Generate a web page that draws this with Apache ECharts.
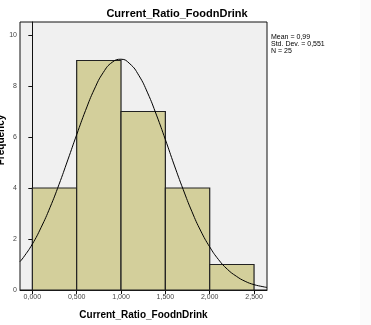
<!DOCTYPE html>
<html>
<head>
<meta charset="utf-8">
<script src="https://cdn.jsdelivr.net/npm/echarts@6/dist/echarts.min.js"></script>
<style>html,body{margin:0;padding:0;background:#fff;}#c{width:371px;height:325px;}</style>
</head>
<body>
<div id="c"></div>
<script>
// Histogram bins (lower edge, upper edge) and frequencies
var binStart = [0.0, 0.5, 1.0, 1.5, 2.0];
var binEnd   = [0.5, 1.0, 1.5, 2.0, 2.5];
var frequency = [4, 9, 7, 4, 1];
// Normal curve points
var curveX = [-0.14, -0.1, 0.0, 0.1, 0.2, 0.3, 0.4, 0.5, 0.6, 0.7, 0.8, 0.9, 1.0, 1.1, 1.2, 1.3, 1.4, 1.5, 1.6, 1.7, 1.8, 1.9, 2.0, 2.1, 2.2, 2.3, 2.4, 2.5, 2.6, 2.646];
var curveY = [1.11, 1.28, 1.80, 2.46, 3.24, 4.13, 5.10, 6.09, 7.04, 7.88, 8.53, 8.93, 9.05, 8.87, 8.42, 7.73, 6.86, 5.90, 4.90, 3.95, 3.07, 2.31, 1.69, 1.19, 0.81, 0.54, 0.34, 0.21, 0.13, 0.10];
var xTicks = [0, 0.5, 1.0, 1.5, 2.0, 2.5];
var yTicks = [0, 2, 4, 6, 8, 10];
var titleText = 'Current_Ratio_FoodnDrink';
var xAxisTitle = 'Current_Ratio_FoodnDrink';
var yAxisTitle = 'Frequency';
var statsLines = ['Mean = 0,99', 'Std. Dev. = 0,551', 'N = 25'];

var bins = binStart.map(function (s, i) { return [s, binEnd[i], frequency[i]]; });
var curve = curveX.map(function (x, i) { return [x, curveY[i]]; });
var font = '"Liberation Sans", Arial, sans-serif';

var chart = echarts.init(document.getElementById('c'), null, {renderer: 'canvas'});
chart.setOption({
  animation: false,
  backgroundColor: '#fff',
  title: {
    text: titleText, left: 172, top: 3, textAlign: 'center',
    textStyle: {fontFamily: font, fontSize: 11, fontWeight: 'bold', color: '#000'}
  },
  grid: {
    left: 20, top: 22, width: 247, height: 268,
    show: true, backgroundColor: '#f0f0f0', borderColor: '#111', borderWidth: 1
  },
  xAxis: {
    type: 'value', min: -0.139, max: 2.646,
    name: xAxisTitle, nameLocation: 'middle', nameGap: 20,
    nameTextStyle: {fontFamily: font, fontSize: 10, fontWeight: 'bold', color: '#000'},
    axisLine: {show: true, onZero: false, lineStyle: {color: '#111', width: 1}},
    axisTick: {show: true, length: 4, customValues: xTicks, lineStyle: {color: '#111'}},
    axisLabel: {customValues: xTicks, fontFamily: font, fontSize: 7, color: '#444', margin: 4,
      formatter: function (v) { return v.toFixed(3).replace('.', ','); }},
    splitLine: {show: false}
  },
  yAxis: {
    type: 'value', min: 0, max: 10.51,
    axisLine: {show: true, lineStyle: {color: '#111', width: 1}},
    axisTick: {show: true, length: 4, customValues: yTicks, lineStyle: {color: '#111'}},
    axisLabel: {customValues: yTicks, fontFamily: font, fontSize: 7, color: '#444', margin: 3},
    splitLine: {show: false}
  },
  graphic: [
    {type: 'rect', shape: {x: 360, y: 0, width: 11, height: 325}, style: {fill: '#fbfbfb'}, z: -10},
    {type: 'text', x: 1, y: 140, rotation: Math.PI / 2,
      style: {text: yAxisTitle, font: 'bold 10px ' + font, fill: '#000', textAlign: 'center', textVerticalAlign: 'middle'}},
    {type: 'text', x: 271, y: 34,
      style: {text: statsLines.join('\n'), font: '7px ' + font, fill: '#000', lineHeight: 7}}
  ],
  series: [
    {
      type: 'custom',
      data: bins,
      encode: {x: [0, 1], y: 2},
      renderItem: function (params, api) {
        var p0 = api.coord([api.value(0), 0]);
        var p1 = api.coord([api.value(1), api.value(2)]);
        return {
          type: 'rect',
          shape: {x: p0[0], y: p1[1], width: p1[0] - p0[0], height: p0[1] - p1[1]},
          style: {fill: '#d3cf9b', stroke: '#222', lineWidth: 1.2}
        };
      },
      z: 2
    },
    {
      type: 'line', data: curve, showSymbol: false, smooth: true,
      lineStyle: {color: '#000', width: 1}, z: 3
    }
  ]
});
</script>
</body>
</html>
